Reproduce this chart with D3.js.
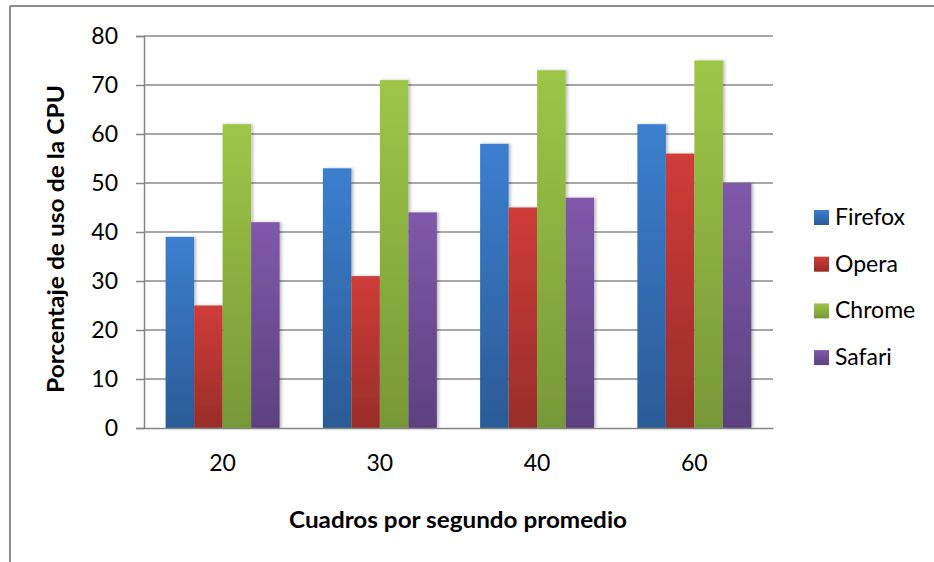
<!DOCTYPE html>
<html><head><meta charset="utf-8">
<script src="https://cdn.jsdelivr.net/npm/d3@7"></script>
<style>body{margin:0;background:#fff}svg{display:block}text{font-family:Lato,"Open Sans",sans-serif}</style>
</head><body><svg id="c" width="934" height="562"></svg>
<script>
const categories = ["20","30","40","60"];
const seriesNames = ["Firefox","Opera","Chrome","Safari"];
const firefox = [39,53,58,62];
const opera = [25,31,45,56];
const chrome = [62,71,73,75];
const safari = [42,44,47,50];
const yTicks = [0,10,20,30,40,50,60,70,80];
const seriesValues = [firefox, opera, chrome, safari];
const colorsTop = ["#3c7fcf","#cf3c38","#9dc647","#8059aa"];
const colorsBot = ["#2b5b96","#992d2a","#779837","#5c417e"];

const svg = d3.select("#c");
const defs = svg.append("defs");
colorsTop.forEach((c,i)=>{
  const g = defs.append("linearGradient").attr("id","g"+i).attr("x1",0).attr("y1",0).attr("x2",0).attr("y2",1);
  g.append("stop").attr("offset","0%").attr("stop-color",c);
  g.append("stop").attr("offset","100%").attr("stop-color",colorsBot[i]);
});
const f = defs.append("filter").attr("id","sh").attr("x","-20%").attr("y","-5%").attr("width","160%").attr("height","110%");
f.append("feDropShadow").attr("dx",2).attr("dy",0).attr("stdDeviation",1.8).attr("flood-color","#000").attr("flood-opacity",0.25);

// outer border
svg.append("line").attr("x1",10).attr("x2",934).attr("y1",6).attr("y2",6).attr("stroke","#8c8c8c").attr("stroke-width",2);
svg.append("line").attr("x1",10).attr("x2",10).attr("y1",6).attr("y2",562).attr("stroke","#8c8c8c").attr("stroke-width",2);

const L=144, R=773, T=36, B=428;
const x0 = d3.scaleBand().domain(categories).range([L,R]).paddingInner(0).paddingOuter(0);
const innerFrac = 114/157.25;
const x1 = d3.scaleBand().domain(seriesNames).range([0, x0.bandwidth()*innerFrac]);
const y = d3.scaleLinear().domain([0,80]).range([B,T]);

// gridlines
svg.append("g").selectAll("line").data(yTicks.filter(d=>d>0)).join("line")
  .attr("x1",L).attr("x2",R).attr("y1",d=>y(d)).attr("y2",d=>y(d))
  .attr("stroke","#8a8a8a").attr("stroke-width",1.5);

// y axis
const yAxis = svg.append("g").attr("transform",`translate(${L},0)`)
  .call(d3.axisLeft(y).tickValues(yTicks).tickSize(8).tickPadding(18));
yAxis.select(".domain").attr("stroke","#868686").attr("stroke-width",1.5);
yAxis.selectAll(".tick line").attr("stroke","#868686").attr("stroke-width",1.5);
yAxis.selectAll("text").attr("font-size",23).attr("fill","#000").attr("font-family","Lato");

// bars
const off = (x0.bandwidth()*(1-innerFrac))/2;
const groups = svg.append("g").selectAll("g").data(categories).join("g")
  .attr("transform",d=>`translate(${x0(d)+off},0)`);
groups.selectAll("rect").data((d,ci)=>seriesNames.map((s,si)=>({s,si,v:seriesValues[si][ci]})))
  .join("rect")
  .attr("x",d=>x1(d.s)).attr("width",x1.bandwidth())
  .attr("y",d=>y(d.v)).attr("height",d=>B-y(d.v))
  .attr("fill",d=>`url(#g${d.si})`).attr("filter","url(#sh)");

// x axis
const xAxis = svg.append("g").attr("transform",`translate(0,${B})`)
  .call(d3.axisBottom(x0).tickSize(0).tickPadding(27));
xAxis.select(".domain").attr("stroke","#868686").attr("stroke-width",1.5);
xAxis.selectAll("text").attr("font-size",23).attr("fill","#000").attr("font-family","Lato");

// axis titles
svg.append("text").attr("x",458).attr("y",528).attr("text-anchor","middle")
  .attr("font-size",22).attr("font-weight","bold")
  .attr("textLength",338).attr("lengthAdjust","spacingAndGlyphs").text("Cuadros por segundo promedio");
svg.append("text").attr("transform","translate(64,239) rotate(-90)").attr("text-anchor","middle")
  .attr("font-size",22).attr("font-weight","bold")
  .attr("textLength",308).attr("lengthAdjust","spacingAndGlyphs").text("Porcentaje de uso de la CPU");

// legend
const leg = svg.append("g").selectAll("g").data(seriesNames).join("g")
  .attr("transform",(d,i)=>`translate(814,${217+i*46.7})`);
leg.append("rect").attr("x",0).attr("y",-7).attr("width",15).attr("height",15).attr("fill",(d,i)=>`url(#g${i})`);
leg.append("text").attr("x",21).attr("y",8).attr("font-size",23).attr("fill","#000").text(d=>d);
</script></body></html>
